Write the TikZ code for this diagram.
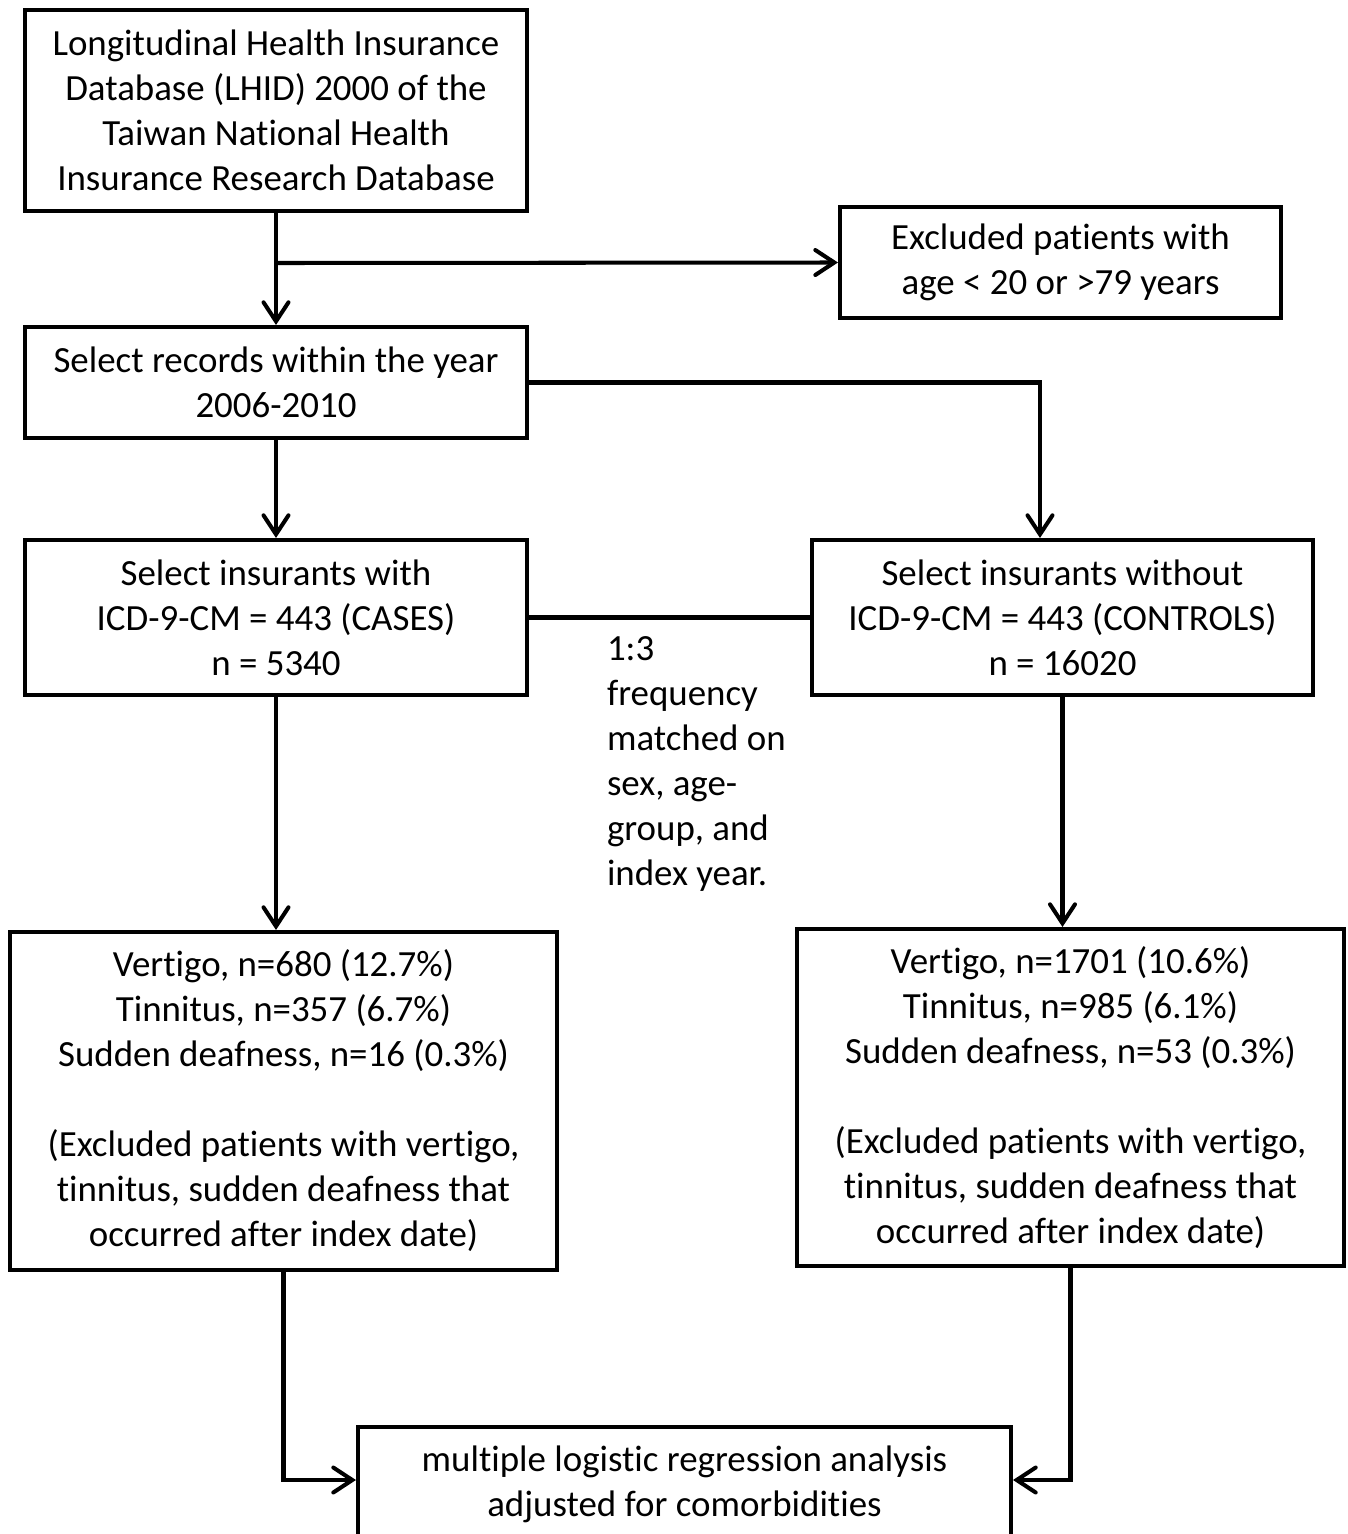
\documentclass[tikz,border=0pt]{standalone}
\usepackage{fontspec}
\setmainfont{Carlito}[RawFeature={-liga;-clig;-dlig;-calt}]
\usepackage{tikz}
\usetikzlibrary{arrows.meta,positioning,calc}

\begin{document}
\begin{tikzpicture}[>={Straight Barb[length=0.38cm,width=0.5cm,line cap=round]}, font=\fontsize{21}{25.6}\selectfont, line width=2.3pt]
\tikzstyle{box}=[draw, align=center, inner sep=0pt]
\useasboundingbox (0,0) rectangle (26.96,-30.68);
\node[box, minimum width=10.04cm, minimum height=4.02cm] (lhid) at (5.52,-2.21) {Longitudinal Health Insurance\\Database (LHID) 2000 of the\\Taiwan National Health\\Insurance Research Database};
\node[box, minimum width=8.82cm, minimum height=2.22cm] (excl) at (21.21,-5.25) {Excluded patients with\\age < 20 or >79 years};
\node[box, minimum width=10.04cm, minimum height=2.22cm] (years) at (5.52,-7.65) {Select records within the year\\2006-2010};
\node[box, minimum width=10.04cm, minimum height=3.10cm] (cases) at (5.52,-12.35) {Select insurants with\\ICD-9-CM = 443 (CASES)\\n = 5340};
\node[box, minimum width=10.02cm, minimum height=3.10cm] (ctrls) at (21.25,-12.35) {Select insurants without\\ICD-9-CM = 443 (CONTROLS)\\n = 16020};
\node[align=left, anchor=west, inner sep=0pt] (match) at (12.10,-15.28) {1:3\\frequency\\matched on\\sex, age-\\group, and\\index year.};
\node[box, minimum width=10.94cm, minimum height=6.76cm] (vcases) at (5.67,-22.02) {Vertigo, n=680 (12.7\%)\\Tinnitus, n=357 (6.7\%)\\Sudden deafness, n=16 (0.3\%)\\[25.6pt](Excluded patients with vertigo,\\tinnitus, sudden deafness that\\occurred after index date)};
\node[box, minimum width=10.94cm, minimum height=6.74cm] (vctrls) at (21.41,-21.95) {Vertigo, n=1701 (10.6\%)\\Tinnitus, n=985 (6.1\%)\\Sudden deafness, n=53 (0.3\%)\\[25.6pt](Excluded patients with vertigo,\\tinnitus, sudden deafness that\\occurred after index date)};
\node[box, minimum width=13.06cm, minimum height=2.3cm] (logit) at (13.69,-29.69) {multiple logistic regression analysis\\adjusted for comorbidities};
\coordinate (split) at (5.52,-5.26);
\draw[->] (lhid.south) -- (years.north);
\draw[->] (split) -- (excl.west);
\draw[->] (years.east) -| ([xshift=-0.45cm]ctrls.north);
\draw[->] (years.south) -- (cases.north);
\draw (cases.east) -- (ctrls.west);
\draw[->] (cases.south) -- (cases.south |- vcases.north);
\draw[->] (ctrls.south) -- (ctrls.south |- vctrls.north);
\draw[->] (vcases.south) |- ([yshift=0.09cm]logit.west);
\draw[->] (vctrls.south) |- ([yshift=0.09cm]logit.east);
\end{tikzpicture}
\end{document}
